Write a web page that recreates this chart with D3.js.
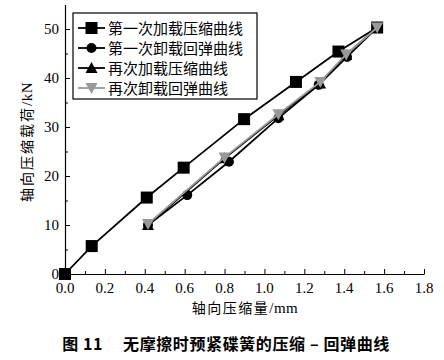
<!DOCTYPE html>
<html><head><meta charset="utf-8">
<script src="https://cdn.jsdelivr.net/npm/d3@7"></script>
<style>body{margin:0;background:#fff}</style>
</head><body>
<svg id="c" width="444" height="360"></svg>
<script>
const xTicks = [0, 0.2, 0.4, 0.6, 0.8, 1.0, 1.2, 1.4, 1.6, 1.8];
const yTicks = [0, 10, 20, 30, 40, 50];
const seriesNames = ["第一次加载压缩曲线", "第一次卸载回弹曲线", "再次加载压缩曲线", "再次卸载回弹曲线"];
const load1X = [0, 0.134, 0.41, 0.595, 0.898, 1.158, 1.371, 1.565];
const load1Y = [0, 5.7, 15.6, 21.7, 31.6, 39.2, 45.4, 50.3];
const unload1X = [0.416, 0.613, 0.822, 1.07, 1.272, 1.414, 1.565];
const unload1Y = [10, 16.1, 22.9, 31.8, 38.6, 44.3, 50.3];
const load2X = [0.416, 0.80, 1.07, 1.279, 1.41, 1.565];
const load2Y = [10, 23.6, 32.4, 38.9, 44.7, 50.3];
const unload2X = [0.416, 0.80, 1.07, 1.28, 1.41, 1.565];
const unload2Y = [10.2, 23.8, 32.6, 39.2, 44.8, 50.3];

const svg = d3.select("#c");
const x = d3.scaleLinear().domain([0, 1.8]).range([65, 424]);
const y = d3.scaleLinear().domain([0, 55]).range([274, 4.5]);
const serif = "'Liberation Serif','Times New Roman',serif";
const cjk = "'Noto Sans CJK SC','Noto Sans',sans-serif";

// axes
const xAxis = svg.append("g").attr("transform", "translate(0,274)")
  .call(d3.axisBottom(x).tickValues(d3.range(0, 1.81, 0.1)).tickSizeInner(-4).tickSizeOuter(0).tickFormat(""));
const yAxis = svg.append("g").attr("transform", "translate(65,0)")
  .call(d3.axisLeft(y).tickValues(d3.range(0, 55, 5)).tickSizeInner(-4).tickSizeOuter(0).tickFormat(""));
svg.selectAll(".domain").attr("stroke", "#000").attr("stroke-width", 1.2);
svg.selectAll(".tick line").attr("stroke", "#000").attr("stroke-width", 1);
xAxis.selectAll(".tick line").attr("y2", d => (Math.round(d * 10) % 2 === 0 ? -5 : -3));
yAxis.selectAll(".tick line").attr("x2", d => (d % 10 === 0 ? 5 : 3));

svg.append("g").selectAll("text").data(xTicks).join("text")
  .attr("x", d => x(d)).attr("y", 293).attr("text-anchor", "middle")
  .attr("font-family", serif).attr("font-size", 15).text(d => d.toFixed(1));
svg.append("g").selectAll("text").data(yTicks).join("text")
  .attr("x", 59).attr("y", d => y(d) + 5).attr("text-anchor", "end")
  .attr("font-family", serif).attr("font-size", 15).text(d => d);

// axis titles
const xt = svg.append("text").attr("x", 245).attr("y", 313).attr("text-anchor", "middle")
  .attr("font-size", 14).attr("letter-spacing", 1.5);
xt.append("tspan").attr("font-family", cjk).text("轴向压缩量");
xt.append("tspan").attr("font-family", serif).attr("font-size", 15).attr("letter-spacing", 0.5).text("/mm");
const yt = svg.append("text").attr("transform", "translate(32,142) rotate(-90)").attr("text-anchor", "middle")
  .attr("font-size", 14).attr("letter-spacing", 2);
yt.append("tspan").attr("font-family", cjk).text("轴向压缩载荷");
yt.append("tspan").attr("font-family", serif).attr("font-size", 15).attr("letter-spacing", 0.5).text("/kN");

// caption
const cap = svg.append("text").attr("x", 226).attr("y", 350).attr("text-anchor", "middle")
  .attr("font-family", cjk).attr("font-weight", "bold").attr("font-size", 16).attr("letter-spacing", 0.6);
cap.append("tspan").text("图 11");
cap.append("tspan").attr("dx", 20).text("无摩擦时预紧碟簧的压缩 – 回弹曲线");

// series
const series = [
  {xs: load1X, ys: load1Y, color: "#000", sym: "square"},
  {xs: unload1X, ys: unload1Y, color: "#000", sym: "circle"},
  {xs: load2X, ys: load2Y, color: "#000", sym: "tri"},
  {xs: unload2X, ys: unload2Y, color: "#999", sym: "itri"}
];
function marker(g, sym, cx, cy, color) {
  if (sym === "square") g.append("rect").attr("x", cx - 6).attr("y", cy - 6).attr("width", 12).attr("height", 12).attr("fill", color);
  else if (sym === "circle") g.append("circle").attr("cx", cx).attr("cy", cy).attr("r", 5).attr("fill", color);
  else if (sym === "tri") g.append("path").attr("d", `M${cx},${cy - 6}L${cx + 6},${cy + 5}L${cx - 6},${cy + 5}Z`).attr("fill", color);
  else g.append("path").attr("d", `M${cx},${cy + 6}L${cx + 6},${cy - 5}L${cx - 6},${cy - 5}Z`).attr("fill", color);
}
const line = d3.line().x(d => x(d[0])).y(d => y(d[1]));
series.forEach(s => {
  const pts = s.xs.map((v, i) => [v, s.ys[i]]);
  const g = svg.append("g");
  g.append("path").attr("d", line(pts)).attr("fill", "none").attr("stroke", s.color).attr("stroke-width", 1.8);
  pts.forEach(p => marker(g, s.sym, x(p[0]), y(p[1]), s.color));
});

// legend
const lg = svg.append("g");
lg.append("rect").attr("x", 73).attr("y", 13).attr("width", 184).attr("height", 86)
  .attr("fill", "#fff").attr("stroke", "#000").attr("stroke-width", 1.2);
seriesNames.forEach((n, i) => {
  const cy = 28 + i * 20;
  lg.append("line").attr("x1", 78).attr("x2", 105).attr("y1", cy).attr("y2", cy).attr("stroke", series[i].color).attr("stroke-width", 1.8);
  marker(lg, series[i].sym, 91.5, cy, series[i].color);
  lg.append("text").attr("x", 108).attr("y", cy + 5.5).attr("font-family", cjk).attr("font-size", 15)
    .attr("fill", "#000").text(n);
});
</script>
</body></html>
